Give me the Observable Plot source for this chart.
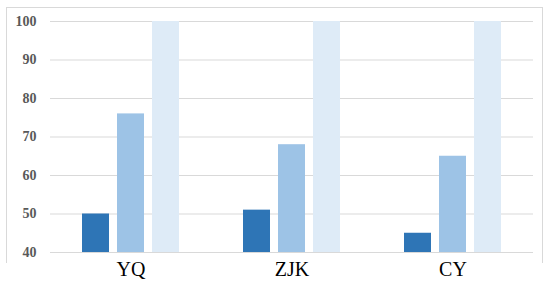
<!DOCTYPE html>
<html><head>
<meta charset="utf-8">
<script src="https://cdn.jsdelivr.net/npm/d3@7"></script>
<script src="https://cdn.jsdelivr.net/npm/@observablehq/plot@0.6"></script>
<style>
body{margin:0;background:#fff}
#wrap{position:relative;width:550px;height:289px}
#frame{position:absolute;left:6px;top:7px;width:537px;height:256px;border:1px solid #d9d9d9;border-bottom:none;box-sizing:border-box;pointer-events:none}
#wrap svg{position:absolute;left:0;top:0}
#wrap svg text{font-family:"Liberation Serif","Times New Roman",serif}
</style></head><body><div id="wrap"><div id="frame"></div></div>
<script>
const sites = ["YQ", "ZJK", "CY"];
const seriesNames = ["s1", "s2", "s3"];
const s1 = [50, 51, 45];
const s2 = [76, 68, 65];
const s3 = [100, 100, 100];
const colors = ["#2E75B6", "#9DC3E6", "#DEEBF7"];
const yTicks = [40, 50, 60, 70, 80, 90, 100];

const data = [];
sites.forEach((s, i) => {
  [s1, s2, s3].forEach((arr, j) => data.push({site: s, series: seriesNames[j], value: arr[i]}));
});

const serif = "Liberation Serif, Times New Roman, serif";
const chart = Plot.plot({
  width: 550, height: 289,
  marginLeft: 49, marginRight: 17, marginTop: 21, marginBottom: 37,
  style: {fontFamily: serif, background: "transparent"},
  fx: {domain: sites, padding: 0, label: null},
  x: {domain: seriesNames, paddingInner: 0.222, paddingOuter: 0.85, axis: null},
  y: {domain: [40, 100], label: null},
  color: {domain: seriesNames, range: colors},
  marks: [
    Plot.gridY(yTicks, {stroke: "#d9d9d9", strokeOpacity: 1, strokeWidth: 1}),
    Plot.barY(data, {fx: "site", x: "series", y: "value", fill: "series", clip: true}),
    Plot.axisY(yTicks, {tickSize: 0, tickPadding: 14, fontSize: 14, fontWeight: "bold", fill: "#595959", fontFamily: serif}),
    Plot.axisFx({anchor: "bottom", tickSize: 0, tickPadding: 9, fontSize: 20, fill: "#000", label: null, fontFamily: serif})
  ]
});
document.getElementById("wrap").appendChild(chart);
</script>
</body></html>
